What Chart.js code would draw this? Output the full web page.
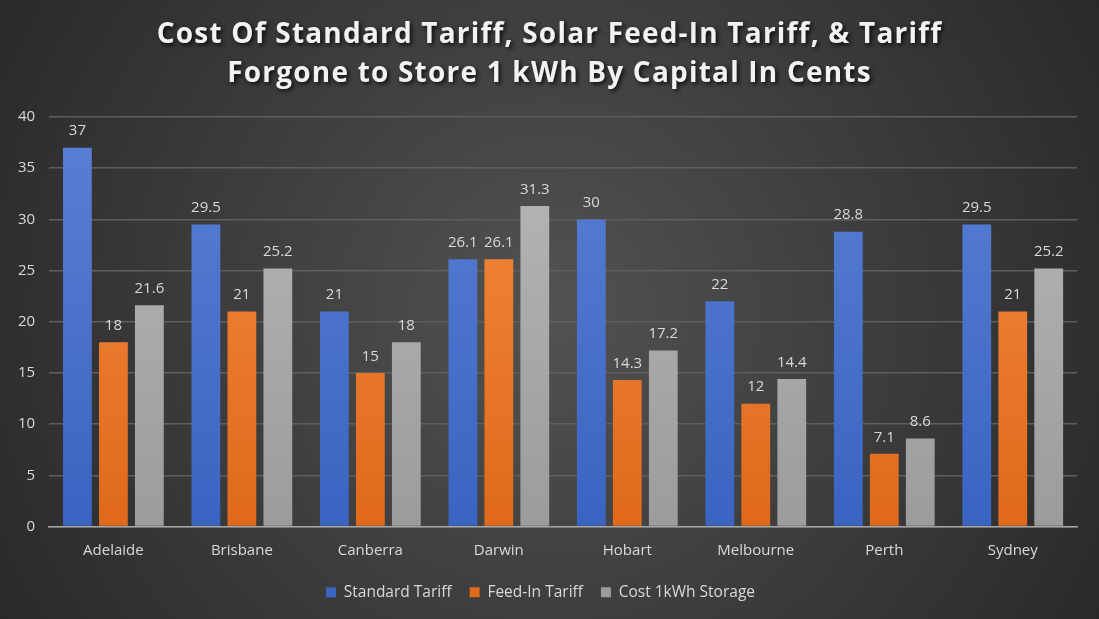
<!DOCTYPE html>
<html>
<head>
<meta charset="utf-8">
<script src="https://cdn.jsdelivr.net/npm/chart.js@4"></script>
<style>
  html, body { margin: 0; padding: 0; background: #3a3a3a; }
  #wrap { width: 1099px; height: 619px; }
</style>
</head>
<body>
<div id="wrap"><canvas id="tariffChart" width="1099" height="619"></canvas></div>
<script>
const cities = ["Adelaide", "Brisbane", "Canberra", "Darwin", "Hobart", "Melbourne", "Perth", "Sydney"];
const standardTariff = [37, 29.5, 21, 26.1, 30, 22, 28.8, 29.5];
const feedInTariff = [18, 21, 15, 26.1, 14.3, 12, 7.1, 21];
const storageCost = [21.6, 25.2, 18, 31.3, 17.2, 14.4, 8.6, 25.2];
const titleLines = ["Cost Of Standard Tariff, Solar Feed-In Tariff, & Tariff", "Forgone to Store 1 kWh By Capital In Cents"];

function barGradient(top, bottom) {
    return function(context) {
        const chart = context.chart;
        const area = chart.chartArea;
        if (!area) return bottom;
        const g = chart.ctx.createLinearGradient(0, area.top, 0, area.bottom);
        g.addColorStop(0, top);
        g.addColorStop(1, bottom);
        return g;
    };
}

// dark radial background like the Excel style
const backgroundPlugin = {
    id: "bg",
    beforeDraw(chart) {
        const ctx = chart.ctx;
        const w = chart.width, h = chart.height;
        const g = ctx.createRadialGradient(w / 2, h / 2, 0, w / 2, h / 2, w * 0.62);
        g.addColorStop(0, "#525252");
        g.addColorStop(1, "#262626");
        ctx.save();
        ctx.fillStyle = g;
        ctx.fillRect(0, 0, w, h);
        ctx.restore();
    }
};

const titlePlugin = {
    id: "shadowTitle",
    afterDraw(chart) {
        const ctx = chart.ctx;
        ctx.save();
        ctx.font = "bold 28px 'Open Sans', sans-serif";
        ctx.letterSpacing = "1.2px";
        ctx.fillStyle = "#f2f2f2";
        ctx.textAlign = "center";
        ctx.textBaseline = "middle";
        ctx.shadowColor = "rgba(0,0,0,0.8)";
        ctx.shadowBlur = 4;
        ctx.shadowOffsetX = 2;
        ctx.shadowOffsetY = 2;
        titleLines.forEach((line, i) => {
            ctx.fillText(line, chart.width / 2, 35 + i * 39);
        });
        ctx.restore();
    }
};

const labelPlugin = {
    id: "barLabels",
    afterDatasetsDraw(chart) {
        const ctx = chart.ctx;
        ctx.save();
        ctx.font = "15px 'Open Sans', sans-serif";
        ctx.fillStyle = "#d9d9d9";
        ctx.textAlign = "center";
        ctx.textBaseline = "bottom";
        chart.data.datasets.forEach((ds, di) => {
            chart.getDatasetMeta(di).data.forEach((bar, i) => {
                ctx.fillText(String(ds.data[i]), bar.x, bar.y - 9);
            });
        });
        ctx.restore();
    }
};

new Chart(document.getElementById("tariffChart"), {
    type: "bar",
    data: {
        labels: cities,
        datasets: [
            { label: "Standard Tariff", data: standardTariff, backgroundColor: barGradient("#5a80d4", "#3a64c2") },
            { label: "Feed-In Tariff", data: feedInTariff, backgroundColor: barGradient("#f48c42", "#e0691b") },
            { label: "Cost 1kWh Storage", data: storageCost, backgroundColor: barGradient("#b8b8b8", "#9c9c9c") }
        ]
    },
    options: {
        responsive: false,
        animation: false,
        categoryPercentage: 0.84,
        barPercentage: 0.8,
        layout: { padding: { top: 117, left: 4, right: 22, bottom: 9 } },
        plugins: {
            title: { display: false },
            tooltip: { enabled: false },
            legend: {
                position: "bottom",
                labels: {
                    color: "#d9d9d9",
                    font: { size: 15.5, family: "'Open Sans', sans-serif" },
                    boxWidth: 10,
                    boxHeight: 10,
                    padding: 18
                }
            }
        },
        scales: {
            x: {
                grid: { display: false },
                border: { color: "#a6a6a6", width: 1.5 },
                ticks: { color: "#d9d9d9", font: { size: 15, family: "'Open Sans', sans-serif" }, padding: 7 }
            },
            y: {
                min: 0,
                max: 40,
                ticks: { stepSize: 5, color: "#d9d9d9", font: { size: 15, family: "'Open Sans', sans-serif" }, padding: 14 },
                grid: { color: "#5e5e5e", lineWidth: 1.5, drawTicks: false },
                border: { display: false }
            }
        }
    },
    plugins: [backgroundPlugin, titlePlugin, labelPlugin]
});
</script>
</body>
</html>
